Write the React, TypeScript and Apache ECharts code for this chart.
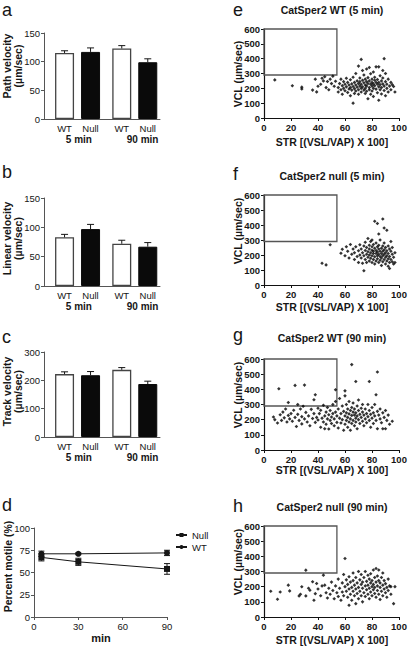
import React, { useEffect, useRef } from 'react';
import * as echarts from 'echarts';

// ---------- Data ----------
const barLabels = ['WT', 'Null', 'WT', 'Null'];
const groupLabels = ['5 min', '90 min'];
const pathVelocity = [115, 117, 123, 99];
const pathVelocityErr = [4, 7, 5, 6];
const linearVelocity = [83, 97, 72, 67];
const linearVelocityErr = [5, 8, 6, 7];
const trackVelocity = [222, 218, 237, 187];
const trackVelocityErr = [8, 13, 8, 10];

const motileTimes = [5, 30, 90];
const motileNull = [67, 62, 54];
const motileNullErr = [4, 4, 6];
const motileWT = [71, 71, 72];
const motileWTErr = [3, 1, 3];

// boxed region in the VCL/STR scatter plots
const boxStrMax = 54;
const boxVclMin = 290;
const boxVclMax = 600;

const wt5: number[][] = [
  [8,257],[21,217],[28,208],[28,196],[36,188],[38,262],[39,176],[40,214],[42,228],[43,268],[44,250],[45,278],[46,205],[47,246],[48,190],[49,262],[50,232],[51,282],[52,214],[53,248],
  [55,205],[55,175],[56,232],[57,262],[57,190],[58,218],[58,160],[59,245],[59,200],[60,184],[60,228],[61,268],[61,210],[62,172],[62,240],[63,196],[63,222],[64,150],[64,258],[64,205],
  [65,230],[65,188],[66,100],[66,212],[66,275],[67,240],[67,165],[67,198],[68,222],[68,300],[68,182],[69,250],[69,208],[70,350],[70,232],[70,190],[70,160],[71,270],[71,215],[71,245],
  [72,395],[72,200],[72,228],[72,175],[73,320],[73,255],[73,210],[74,238],[74,188],[74,290],[75,222],[75,200],[75,165],[75,262],[76,330],[76,245],[76,215],[76,180],[77,130],[77,232],
  [77,272],[78,340],[78,205],[78,250],[78,190],[79,228],[79,298],[79,160],[80,215],[80,262],[80,240],[80,182],[81,310],[81,200],[81,230],[81,145],[82,255],[82,218],[82,275],[83,240],
  [83,195],[83,345],[84,228],[84,170],[84,260],[85,345],[85,210],[85,240],[85,120],[86,285],[86,225],[86,190],[87,250],[87,205],[87,162],[88,230],[88,320],[88,270],[89,400],[89,215],
  [89,185],[90,245],[90,300],[90,150],[91,228],[91,200],[92,262],[92,175],[93,215],[94,240],[94,190],[95,225],[96,212],[97,175]
];

const null5: number[][] = [
  [43,145],[46,134],[49,268],
  [57,212],[58,238],[60,195],[61,255],[62,225],[63,180],[64,270],[65,205],[66,240],[67,170],[67,215],[68,255],[69,190],[70,228],[70,150],[71,268],[71,200],
  [72,180],[72,240],[73,215],[73,145],[74,95],[74,260],[74,195],[75,230],[75,170],[75,285],[76,205],[76,250],[76,150],[77,310],[77,222],[77,185],[78,265],[78,200],[78,160],[78,240],
  [79,215],[79,178],[79,290],[80,300],[80,232],[80,195],[80,150],[80,255],[81,210],[81,170],[81,270],[81,225],[82,425],[82,188],[82,245],[82,140],[83,210],[83,280],[83,230],[83,160],
  [84,410],[84,195],[84,255],[84,220],[84,175],[85,340],[85,240],[85,205],[85,150],[85,265],[86,190],[86,225],[86,300],[86,165],[87,245],[87,210],[87,180],[87,130],[88,440],[88,260],
  [88,225],[88,195],[88,155],[89,380],[89,235],[89,205],[89,170],[89,280],[90,250],[90,215],[90,185],[90,140],[91,365],[91,228],[91,195],[91,160],[92,260],[92,210],[92,175],[92,125],
  [93,240],[93,190],[93,110],[93,150],[94,225],[94,170],[94,290],[95,205],[95,155],[95,250],[96,185],[96,140],[97,150],[97,215]
];

const wt90: number[][] = [
  [7,218],[8,200],[10,178],[11,404],[12,232],[13,195],[14,250],[15,212],[16,270],[17,185],[18,313],[18,228],[19,205],[20,240],[21,190],[22,262],[23,426],[23,215],[24,155],[25,300],
  [25,235],[26,195],[27,270],[28,220],[28,172],[29,288],[30,428],[30,205],[31,248],[32,185],[33,225],[34,160],[35,268],[36,208],[37,331],[37,240],[38,364],[38,182],[39,215],[40,275],
  [40,198],[41,240],[42,150],[42,262],[43,210],[44,185],[44,295],[45,225],[45,140],[46,250],[46,170],[47,205],[47,280],[48,232],[48,138],[49,195],[49,260],[50,218],[50,175],[51,300],
  [51,240],[52,160],[52,205],[53,397],[53,320],[53,250],[54,182],[54,225],[55,270],[55,145],[56,210],[56,340],[57,240],[57,178],[58,290],[58,200],[59,255],[59,130],[60,390],[60,357],
  [60,225],[60,170],[61,300],[61,245],[61,195],[62,270],[62,215],[62,150],[63,238],[63,185],[63,320],[64,260],[64,205],[64,130],[65,563],[65,280],[65,228],[65,175],[66,250],[66,195],
  [66,310],[67,230],[67,160],[67,270],[68,452],[68,210],[68,245],[68,185],[69,290],[69,225],[69,140],[70,260],[70,200],[70,330],[71,235],[71,175],[72,275],[72,215],[73,250],[73,190],
  [73,300],[74,230],[74,160],[75,270],[75,205],[76,240],[76,180],[77,300],[77,220],[78,452],[78,260],[78,195],[79,235],[79,150],[80,280],[80,210],[81,245],[81,175],[82,300],[82,225],
  [83,364],[83,195],[84,514],[84,255],[84,140],[85,230],[86,205],[86,270],[87,180],[88,245],[88,140],[89,215],[90,260],[90,140],[91,195],[92,230],[93,170],[95,190]
];

const null90: number[][] = [
  [5,170],[10,117],[12,165],[18,210],[19,172],[26,139],[27,150],[28,199],[31,139],[31,309],[33,190],[34,176],[36,232],[37,110],[38,154],[39,221],[40,185],[42,140],[43,205],[44,276],
  [45,210],[46,160],[47,125],[48,190],[49,150],[50,230],[51,175],[52,120],[53,205],[54,160],[55,250],[55,135],[56,190],[57,110],[58,225],[58,165],[59,280],[59,140],[60,386],[60,200],
  [61,170],[61,245],[62,130],[62,215],[63,77],[63,185],[63,265],[64,150],[64,230],[65,195],[65,110],[66,290],[66,170],[66,240],[67,140],[67,210],[68,88],[68,185],[68,260],[69,155],
  [69,225],[70,300],[70,195],[70,120],[71,245],[71,170],[72,215],[72,140],[72,280],[73,190],[73,230],[73,100],[74,160],[74,260],[75,205],[75,135],[75,300],[76,180],[76,235],[77,150],
  [77,275],[77,210],[78,120],[78,190],[78,250],[79,225],[79,165],[79,285],[80,200],[80,140],[80,240],[81,180],[81,310],[81,215],[82,155],[82,260],[82,195],[83,230],[83,130],[83,320],
  [84,205],[84,175],[84,270],[85,240],[85,150],[85,310],[86,195],[86,225],[86,115],[87,260],[87,170],[88,210],[88,140],[88,290],[89,185],[89,240],[90,160],[90,220],[91,195],[91,130],
  [92,250],[92,175],[93,205],[94,200],[94,150],[96,88],[97,200]
];

// ---------- Layout ----------
const FONT = '"Liberation Sans", Arial, Helvetica, sans-serif';
const INK = '#161616';
const AXIS_GREY = '#555';
const barSlots = [0, 1, 2.2, 3.2];
const groupSlots = [0.55, 3.0];
const barMinX = -0.79;
const barMaxX = 3.67;

const barPanels = [
  { grid: { left: 44, top: 33, width: 116, height: 86 }, max: 150, interval: 50, values: pathVelocity, errs: pathVelocityErr, name: 'Path velocity\n(µm/sec)', nameX: 12.5, nameY: 66, letter: 'a', letterY: 9.5 },
  { grid: { left: 44, top: 198, width: 116, height: 88 }, max: 150, interval: 50, values: linearVelocity, errs: linearVelocityErr, name: 'Linear velocity\n(µm/sec)', nameX: 12.5, nameY: 238.5, letter: 'b', letterY: 172 },
  { grid: { left: 44, top: 352, width: 116, height: 85 }, max: 300, interval: 100, values: trackVelocity, errs: trackVelocityErr, name: 'Track velocity\n(µm/sec)', nameX: 12.5, nameY: 391.5, letter: 'c', letterY: 337 },
];

const scatterPanels = [
  { grid: { left: 264, top: 29, width: 135, height: 89 }, data: wt5, title: 'CatSper2 WT (5 min)', titleY: 10, nameY: 74, xNameY: 142, letter: 'e', letterY: 9.5 },
  { grid: { left: 264, top: 195, width: 135, height: 90 }, data: null5, title: 'CatSper2 null (5 min)', titleY: 176, nameY: 231, xNameY: 307, letter: 'f', letterY: 174 },
  { grid: { left: 264, top: 359, width: 135, height: 91 }, data: wt90, title: 'CatSper2 WT (90 min)', titleY: 338, nameY: 395, xNameY: 470, letter: 'g', letterY: 335 },
  { grid: { left: 264, top: 526, width: 135, height: 91 }, data: null90, title: 'CatSper2 null (90 min)', titleY: 507, nameY: 562, xNameY: 640, letter: 'h', letterY: 506 },
];

const dGrid = { left: 34, top: 528, width: 133, height: 89 };

function slotIndex(v: number, slots: number[]) {
  for (let i = 0; i < slots.length; i++) if (Math.abs(slots[i] - v) < 0.01) return i;
  return -1;
}

function errRender(capBoth: boolean, cap: number) {
  return (params: any, api: any) => {
    const x = api.value(0);
    const lo = api.value(1);
    const hi = api.value(2);
    const p0 = api.coord([x, lo]);
    const p1 = api.coord([x, hi]);
    const style = { stroke: INK, lineWidth: 1 };
    const children: any[] = [
      { type: 'line', shape: { x1: p0[0], y1: p0[1], x2: p1[0], y2: p1[1] }, style },
      { type: 'line', shape: { x1: p1[0] - cap, y1: p1[1], x2: p1[0] + cap, y2: p1[1] }, style },
    ];
    if (capBoth) children.push({ type: 'line', shape: { x1: p0[0] - cap, y1: p0[1], x2: p0[0] + cap, y2: p0[1] }, style });
    return { type: 'group', children };
  };
}

function buildOption() {
  const grid: any[] = [];
  const xAxis: any[] = [];
  const yAxis: any[] = [];
  const series: any[] = [];
  const graphic: any[] = [];

  const axisLine = { show: true, onZero: false, lineStyle: { color: AXIS_GREY, width: 1 } };
  const txt = (x: number, y: number, text: string, size: number, weight: any, extra: any = {}) => ({
    type: 'text', x, y, rotation: extra.rotation || 0,
    style: { text, x: 0, y: 0, fill: INK, font: `${weight} ${size}px ${FONT}`, align: extra.align || 'center', verticalAlign: 'middle', lineHeight: extra.lineHeight || size + 1 },
  });

  // bar panels
  barPanels.forEach((p) => {
    const gi = grid.length;
    grid.push(p.grid);
    const xi = xAxis.length;
    xAxis.push({
      type: 'value', gridIndex: gi, min: barMinX, max: barMaxX, position: 'bottom',
      axisLine, axisTick: { show: false }, splitLine: { show: false },
      axisLabel: { customValues: barSlots, formatter: (v: number) => barLabels[slotIndex(v, barSlots)] || '', fontSize: 9.5, color: INK, fontFamily: FONT, margin: 4 },
    });
    xAxis.push({
      type: 'value', gridIndex: gi, min: barMinX, max: barMaxX, position: 'bottom', offset: 11,
      axisLine: { show: false, onZero: false }, axisTick: { show: false }, splitLine: { show: false },
      axisLabel: { customValues: groupSlots, formatter: (v: number) => groupLabels[slotIndex(v, groupSlots)] || '', fontSize: 10, fontWeight: 'bold', color: INK, fontFamily: FONT, margin: 4 },
    });
    const yi = yAxis.length;
    yAxis.push({
      type: 'value', gridIndex: gi, min: 0, max: p.max, interval: p.interval,
      axisLine, axisTick: { show: true, length: 3, lineStyle: { color: AXIS_GREY } }, splitLine: { show: false },
      axisLabel: { fontSize: 9.5, color: INK, fontFamily: FONT, margin: 4 },
    });
    series.push({
      type: 'bar', xAxisIndex: xi, yAxisIndex: yi, barWidth: 19, silent: true,
      data: p.values.map((v, k) => ({
        value: [barSlots[k], v],
        itemStyle: k % 2 === 0 ? { color: '#ffffff', borderColor: '#444', borderWidth: 1.3 } : { color: '#0a0a0a', borderColor: '#0a0a0a', borderWidth: 1 },
      })),
    });
    series.push({
      type: 'custom', xAxisIndex: xi, yAxisIndex: yi, silent: true, z: 3,
      dimensions: ['pos', 'lo', 'hi'],
      encode: { x: 0, y: [1, 2] },
      renderItem: errRender(false, 3.5),
      data: p.values.map((v, k) => [barSlots[k], v, v + p.errs[k]]),
    });
    graphic.push(txt(2, p.letterY, p.letter, 18, 'normal', { align: 'left', lineHeight: 10 }));
    graphic.push(txt(p.nameX, p.nameY, p.name, 10.5, 'bold', { rotation: Math.PI / 2, lineHeight: 11 }));
  });

  // panel d
  {
    const gi = grid.length;
    grid.push(dGrid);
    const xi = xAxis.length;
    xAxis.push({
      type: 'value', gridIndex: gi, min: 0, max: 90, interval: 30,
      axisLine, axisTick: { show: true, length: 3, lineStyle: { color: AXIS_GREY } }, splitLine: { show: false },
      axisLabel: { fontSize: 9.5, color: INK, fontFamily: FONT, margin: 4 },
    });
    const yi = yAxis.length;
    yAxis.push({
      type: 'value', gridIndex: gi, min: 0, max: 100, interval: 25,
      axisLine, axisTick: { show: true, length: 3, lineStyle: { color: AXIS_GREY } }, splitLine: { show: false },
      axisLabel: { fontSize: 9.5, color: INK, fontFamily: FONT, margin: 4 },
    });
    series.push({
      name: 'Null', type: 'line', xAxisIndex: xi, yAxisIndex: yi, symbol: 'rect', symbolSize: 6,
      itemStyle: { color: INK }, lineStyle: { color: INK, width: 1 },
      data: motileTimes.map((t, k) => [t, motileNull[k]]),
    });
    series.push({
      name: 'WT', type: 'line', xAxisIndex: xi, yAxisIndex: yi, symbol: 'circle', symbolSize: 6,
      itemStyle: { color: INK }, lineStyle: { color: INK, width: 1 },
      data: motileTimes.map((t, k) => [t, motileWT[k]]),
    });
    series.push({
      type: 'custom', xAxisIndex: xi, yAxisIndex: yi, silent: true, renderItem: errRender(true, 3),
      dimensions: ['t', 'lo', 'hi'], encode: { x: 0, y: [1, 2] },
      data: motileTimes.map((t, k) => [t, motileNull[k] - motileNullErr[k], motileNull[k] + motileNullErr[k]]),
    });
    series.push({
      type: 'custom', xAxisIndex: xi, yAxisIndex: yi, silent: true, renderItem: errRender(true, 3),
      dimensions: ['t', 'lo', 'hi'], encode: { x: 0, y: [1, 2] },
      data: motileTimes.map((t, k) => [t, motileWT[k] - motileWTErr[k], motileWT[k] + motileWTErr[k]]),
    });
    graphic.push(txt(2, 505, 'd', 18, 'normal', { align: 'left', lineHeight: 10 }));
    graphic.push(txt(7.5, 566.5, 'Percent motile (%)', 10.5, 'bold', { rotation: Math.PI / 2 }));
    graphic.push(txt(101, 638, 'min', 11, 'bold'));
  }

  // scatter panels
  scatterPanels.forEach((p) => {
    const gi = grid.length;
    grid.push(p.grid);
    const xi = xAxis.length;
    xAxis.push({
      type: 'value', gridIndex: gi, min: 0, max: 100, interval: 20,
      axisLine: { show: true, onZero: false, lineStyle: { color: '#111', width: 1.2 } },
      axisTick: { show: true, length: 3, lineStyle: { color: '#111' } }, splitLine: { show: false },
      axisLabel: { fontSize: 9.5, fontWeight: 'bold', color: INK, fontFamily: FONT, margin: 4 },
    });
    const yi = yAxis.length;
    yAxis.push({
      type: 'value', gridIndex: gi, min: 0, max: 600, interval: 100,
      axisLine: { show: true, onZero: false, lineStyle: { color: '#111', width: 1.2 } },
      axisTick: { show: true, length: 3, lineStyle: { color: '#111' } }, splitLine: { show: false },
      axisLabel: { fontSize: 9.5, fontWeight: 'bold', color: INK, fontFamily: FONT, margin: 4 },
    });
    series.push({
      type: 'scatter', xAxisIndex: xi, yAxisIndex: yi, silent: true,
      symbol: 'diamond', symbolSize: 3.6, itemStyle: { color: '#000' },
      data: p.data,
      markArea: {
        silent: true,
        itemStyle: { color: 'rgba(0,0,0,0)', borderColor: '#555', borderWidth: 1.3 },
        data: [[{ xAxis: 0, yAxis: boxVclMin }, { xAxis: boxStrMax, yAxis: boxVclMax }]],
      },
    });
    graphic.push(txt(233, p.letterY, p.letter, 18, 'normal', { align: 'left', lineHeight: 10 }));
    graphic.push(txt(332, p.titleY, p.title, 10.5, 'bold'));
    graphic.push(txt(238, p.nameY, 'VCL (µm/sec)', 10.5, 'bold', { rotation: Math.PI / 2 }));
    graphic.push(txt(332, p.xNameY, 'STR [(VSL/VAP) X 100]', 10.5, 'bold'));
  });

  return {
    animation: false,
    backgroundColor: '#ffffff',
    textStyle: { fontFamily: FONT },
    grid,
    xAxis,
    yAxis,
    series,
    graphic,
    legend: {
      data: ['Null', 'WT'], orient: 'vertical', left: 175, top: 530, padding: 0,
      itemWidth: 11, itemHeight: 5, itemGap: 2,
      textStyle: { fontSize: 9.5, color: INK, fontFamily: FONT },
    },
  };
}

export default function App() {
  const ref = useRef<HTMLDivElement>(null);
  useEffect(() => {
    if (!ref.current) return;
    const chart = echarts.init(ref.current, undefined, { renderer: 'svg' });
    chart.setOption(buildOption() as any);
    return () => chart.dispose();
  }, []);
  return <div ref={ref} style={{ position: 'absolute', left: 0, top: 0, width: 410, height: 646 }} />;
}
